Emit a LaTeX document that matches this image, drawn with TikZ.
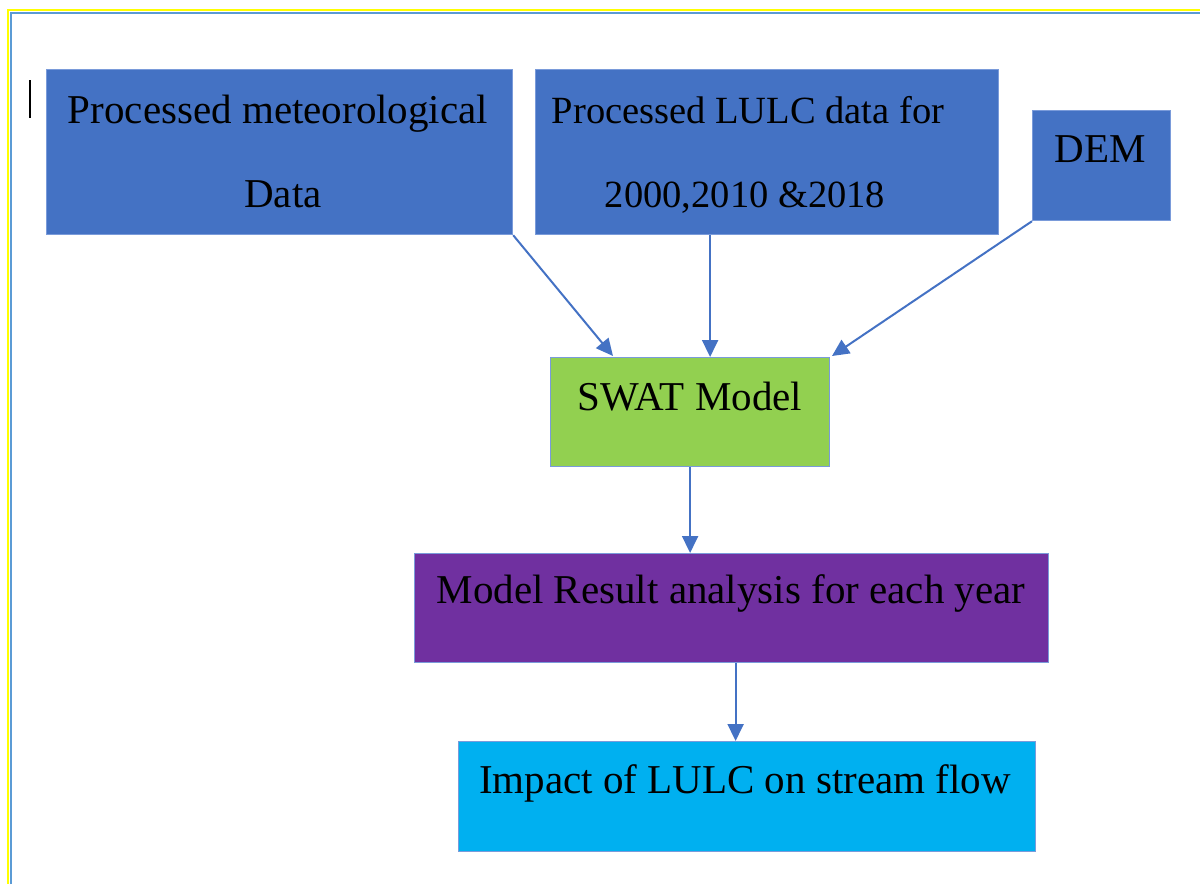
\documentclass[tikz,border=0pt]{standalone}
\usepackage{fontspec}
\setmainfont{Liberation Serif}
\usetikzlibrary{arrows.meta}

\definecolor{boxblue}{HTML}{4472C4}
\definecolor{edgeblue}{HTML}{7A9BDA}
\definecolor{swatgreen}{HTML}{92D050}
\definecolor{resultpurple}{HTML}{7030A0}
\definecolor{impactcyan}{HTML}{00B0F0}
\definecolor{framegold}{HTML}{FFFF00}
\definecolor{frameblue}{HTML}{5B9BD5}

\tikzset{
  block/.style={draw=edgeblue, line width=1.2pt, anchor=north west, inner sep=0pt},
  label text/.style={anchor=base, inner sep=0pt, font=\fontsize{41}{41}\selectfont},
  small text/.style={label text, font=\fontsize{38.5}{38.5}\selectfont},
  flow/.style={draw=boxblue, line width=2pt, -{Triangle[length=17pt,width=16pt]}}
}

\begin{document}
\begin{tikzpicture}[x=1pt,y=-1pt]
  \useasboundingbox (0,0) rectangle (1200,884);

  % page frame
  \draw[framegold, line width=2.6pt] (8,884) -- (8,10) -- (1200,10);
  \draw[frameblue, line width=2pt] (10.5,884) -- (10.5,12.5) -- (1200,12.5);

  % text cursor
  \draw[black, line width=1.4pt] (30,80) -- (30,118);

  % input boxes
  \node[block, fill=boxblue, minimum width=466pt, minimum height=165pt] (met) at (46,69) {};
  \node[block, fill=boxblue, minimum width=463pt, minimum height=165pt] (lulc) at (535,69) {};
  \node[block, fill=boxblue, minimum width=138pt, minimum height=110pt] (dem) at (1032,110) {};

  % processing and result boxes
  \node[block, fill=swatgreen, minimum width=279pt, minimum height=109pt] (swat) at (550,357) {};
  \node[block, fill=resultpurple, minimum width=634pt, minimum height=109pt] (result) at (414,553) {};
  \node[block, fill=impactcyan, minimum width=577pt, minimum height=110pt] (impact) at (458,741) {};

  % box texts
  \node[label text] (met1) at (278,123) {Processed meteorological};
  \node[label text] (met2) at (283,207) {Data};
  \node[small text] (lulc1) at (748,123) {Processed LULC data for};
  \node[small text] (lulc2) at (745,207) {2000,2010 \&2018};
  \node[label text] (dem1) at (1100,162) {DEM};
  \node[label text] (swat1) at (690,410) {SWAT Model};
  \node[label text] (result1) at (731,603) {Model Result analysis for each year};
  \node[label text] (impact1) at (745,793) {Impact of LULC on stream flow};

  % connectors
  \coordinate (swatA) at (613,356);
  \coordinate (swatB) at (832,356);
  \draw[flow] (met.south east) -- (swatA);
  \draw[flow] (lulc.south west -| swat.north) ++(20,0) coordinate (lulcS) -- (lulcS |- swat.north);
  \draw[flow] (dem.south west) -- (swatB);
  \draw[flow] (swat.south) -- (result.north -| swat.south);
  \draw[flow] (result.south) ++(4,0) coordinate (resS) -- (resS |- impact.north);
\end{tikzpicture}
\end{document}
